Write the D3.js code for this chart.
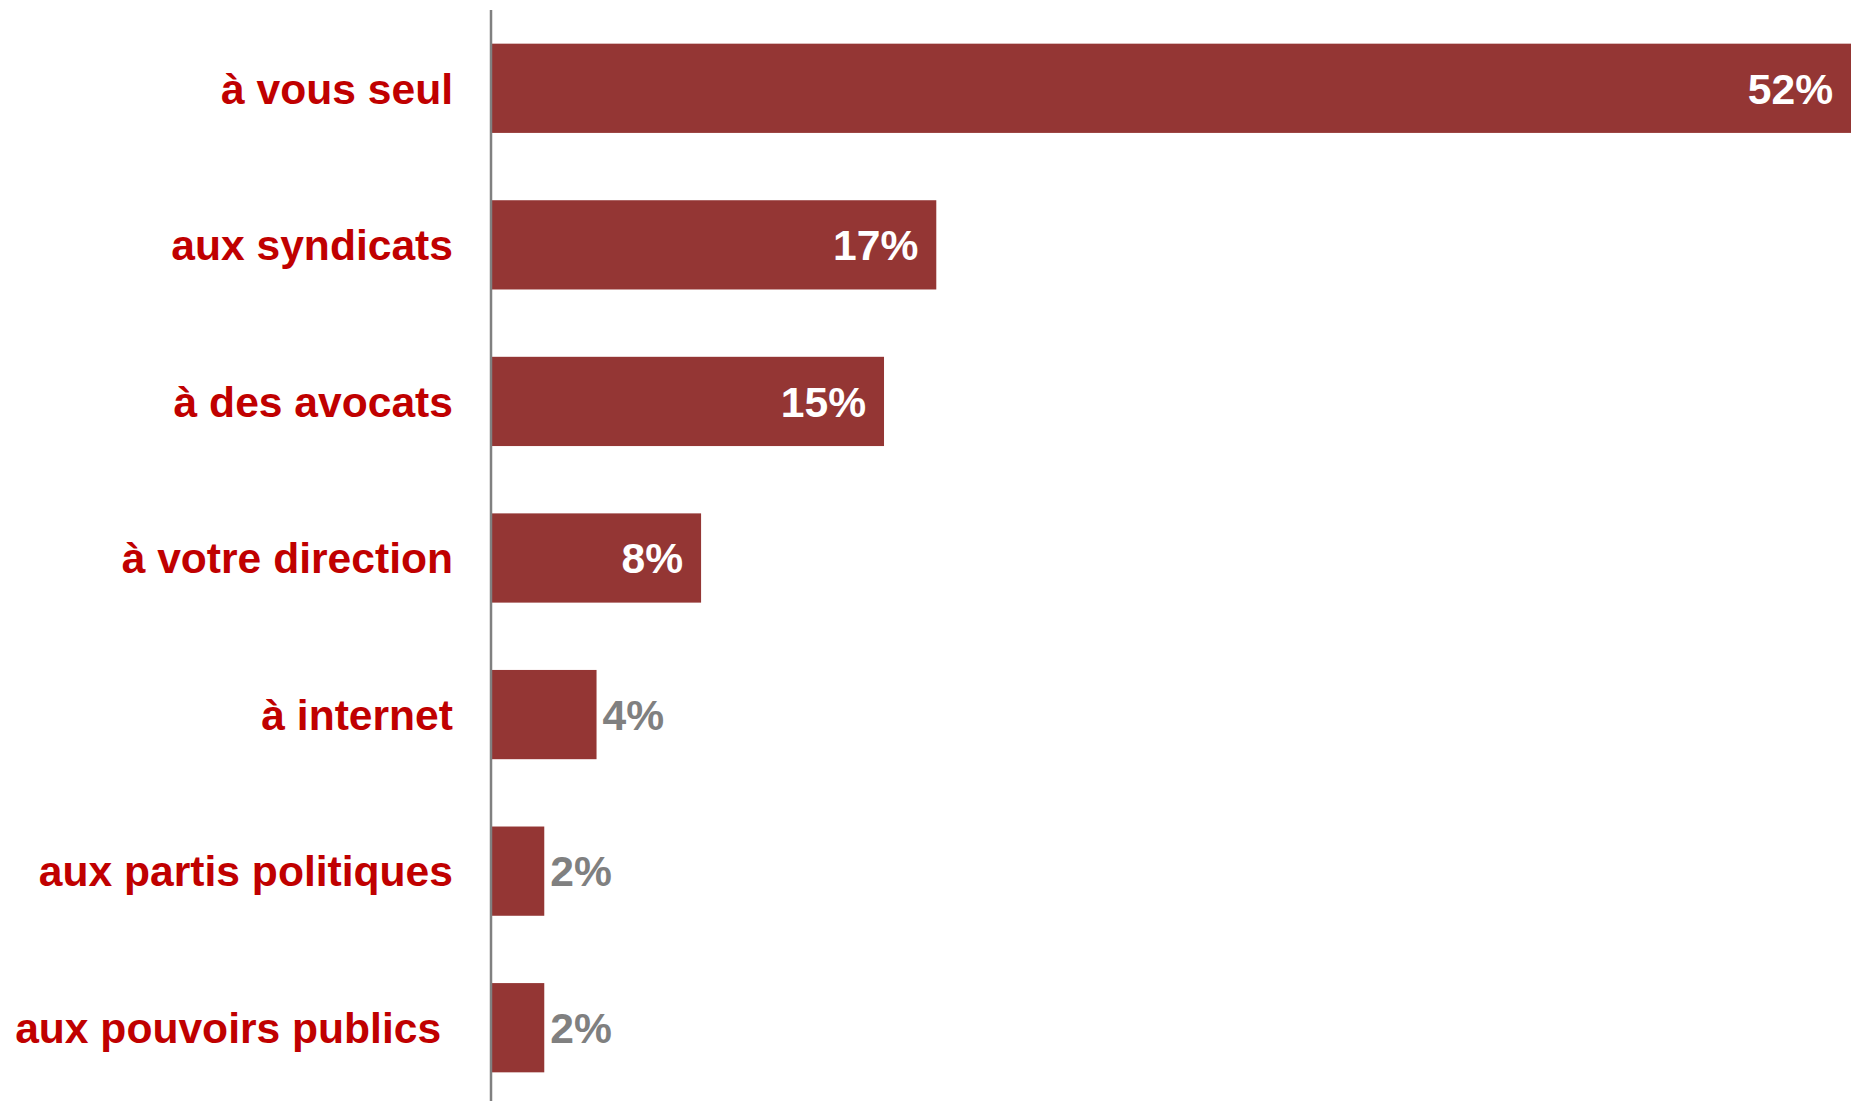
<!DOCTYPE html>
<html>
<head>
<meta charset="utf-8">
<script src="https://cdn.jsdelivr.net/npm/d3@7"></script>
<style>
  body { margin: 0; background: #fff; }
  text { font-family: "Liberation Sans", Arial, sans-serif; font-weight: bold; }
</style>
</head>
<body>
<script>
var categories = ['à vous seul', 'aux syndicats', 'à des avocats', 'à votre direction',
                  'à internet', 'aux partis politiques', 'aux pouvoirs publics '];
var values = [52, 17, 15, 8, 4, 2, 2];
var valueLabels = ['52%', '17%', '15%', '8%', '4%', '2%', '2%'];

var width = 1856, height = 1101;
var x0 = 492;

var svg = d3.select('body').append('svg')
    .attr('width', width)
    .attr('height', height);

var x = d3.scaleLinear().domain([0, 52]).range([x0, 1851]);
var y = d3.scaleBand().domain(categories).range([10, 1106])
    .paddingInner(0.43).paddingOuter(0.215);

var data = categories.map(function (c, i) { return { cat: c, v: values[i], lab: valueLabels[i] }; });

svg.selectAll('rect.bar')
    .data(data)
    .enter().append('rect')
    .attr('class', 'bar')
    .attr('x', x(0))
    .attr('y', function (d) { return y(d.cat); })
    .attr('width', function (d) { return x(d.v) - x(0); })
    .attr('height', y.bandwidth())
    .style('fill', '#943634');

// axis with category labels
var axis = svg.append('g')
    .attr('transform', 'translate(' + (x0 - 1) + ',0)')
    .call(d3.axisLeft(y).tickSize(0).tickPadding(38));
axis.select('.domain')
    .attr('d', 'M0,10V' + height)
    .style('stroke', '#808080')
    .style('stroke-width', 2.5);
axis.selectAll('text')
    .attr('dy', '0.36em')
    .style('font-family', '"Liberation Sans", Arial, sans-serif')
    .style('font-weight', 'bold')
    .style('font-size', '42.6px')
    .style('white-space', 'pre')
    .style('fill', '#C00000');

// value labels
svg.selectAll('text.val')
    .data(data)
    .enter().append('text')
    .attr('class', 'val')
    .attr('x', function (d) { return d.v >= 8 ? x(d.v) - 18 : x(d.v) + 6; })
    .attr('y', function (d) { return y(d.cat) + y.bandwidth() / 2; })
    .attr('dy', '0.36em')
    .attr('text-anchor', function (d) { return d.v >= 8 ? 'end' : 'start'; })
    .style('font-size', '42.6px')
    .style('fill', function (d) { return d.v >= 8 ? '#ffffff' : '#808080'; })
    .text(function (d) { return d.lab; });
</script>
</body>
</html>
